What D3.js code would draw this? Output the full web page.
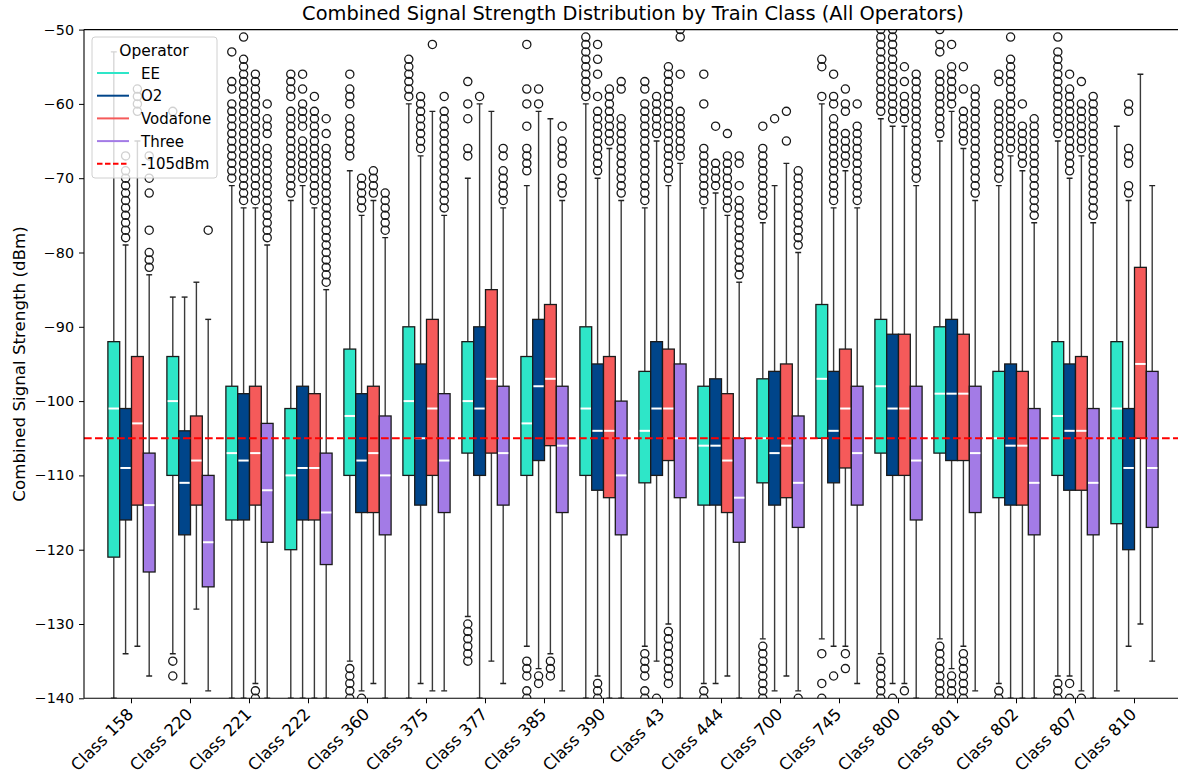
<!DOCTYPE html>
<html lang="en">
<head>
<meta charset="UTF-8">
<title>Combined Signal Strength Distribution by Train Class</title>
<script src="https://d3js.org/d3.v7.min.js"></script>
<style>
  body { margin: 0; background: #fff; overflow: hidden; }
  svg { font-family: "DejaVu Sans", sans-serif; }
</style>
</head>
<body>
<script>
// Train classes along the x axis
const classes = ["Class 158", "Class 220", "Class 221", "Class 222", "Class 360", "Class 375",
  "Class 377", "Class 385", "Class 390", "Class 43", "Class 444", "Class 700", "Class 745",
  "Class 800", "Class 801", "Class 802", "Class 807", "Class 810"];
const operators = ["EE", "O2", "Vodafone", "Three"];
const colors = ["#2ee6c8", "#00458a", "#f55a5a", "#a37be6"];
const yTicks = [-140, -130, -120, -110, -100, -90, -80, -70, -60, -50];
const threshold = -105;

// [lower whisker, q1, median, q3, upper whisker] for each class
const eeStats = [
  [-140, -121, -101, -92, -53], [-134, -110, -100, -94, -86], [-140, -116, -107, -98, -71],
  [-140, -120, -110, -101, -73], [-135, -110, -102, -93, -69], [-140, -110, -100, -90, -60],
  [-129, -107, -100, -92, -70], [-133, -110, -103, -94, -71], [-140, -110, -101, -90, -60],
  [-133, -111, -104, -96, -74], [-138, -114, -106, -98, -74], [-132, -111, -105, -97, -76],
  [-132, -105, -97, -87, -60], [-134, -107, -98, -89, -62], [-132, -107, -99, -90, -65],
  [-138, -113, -105, -96, -71], [-137, -110, -102, -92, -65], [-139, -116.5, -101, -92, -63]];
const o2Stats = [
  [-134, -116, -109, -101, -79], [-138, -118, -111, -104, -86], [-140, -116, -108, -99, -74],
  [-140, -116, -109, -98, -71], [-139, -115, -108, -99, -75], [-138, -114, -105, -95, -67],
  [-140, -110, -101, -90, -60], [-136, -108, -98, -89, -61], [-137, -112, -104, -95, -70],
  [-135, -110, -101, -92, -65], [-138, -114, -106, -97, -72], [-139, -114, -107, -96, -71],
  [-133, -111, -104, -96, -74], [-138, -110, -101, -91, -63], [-136, -108, -99, -89, -61],
  [-140, -114, -106, -95, -67], [-137, -112, -104, -95, -70], [-133, -120, -109, -101, -73]];
const vodafoneStats = [
  [-133, -114, -103, -94, -65], [-128, -114, -108, -102, -84], [-138, -114, -107, -98, -74],
  [-140, -116, -109, -99, -74], [-138, -115, -107, -98, -73], [-139, -110, -101, -89, -61],
  [-135, -107, -97, -85, -61], [-134, -106, -97, -87, -62], [-140, -113, -104, -94, -66],
  [-130, -108, -101, -93, -71], [-137, -115, -108, -99, -75], [-137, -113, -106, -95, -68],
  [-133, -109, -101, -93, -69], [-138, -110, -101, -91, -63], [-133, -108, -99, -91, -66],
  [-140, -114, -106, -96, -69], [-139, -112, -104, -94, -67], [-130, -105, -95, -82, -56]];
const threeStats = [
  [-137, -123, -114, -107, -83], [-139, -125, -119, -110, -89], [-140, -119, -112, -103, -79],
  [-140, -122, -115, -107, -85], [-140, -118, -110, -102, -78], [-139, -115, -108, -99, -75],
  [-138, -114, -107, -98, -74], [-139, -115, -106, -98, -73], [-140, -118, -110, -100, -73],
  [-140, -113, -105, -95, -68], [-140, -119, -113, -105, -84], [-139, -117, -111, -102, -80],
  [-138, -114, -107, -98, -74], [-140, -116, -108, -98, -71], [-139, -115, -107, -98, -73],
  [-140, -118, -111, -101, -76], [-140, -118, -111, -101, -76], [-135, -117, -109, -96, -71]];

// outlier points for each class
const eeOutliers = [
  [],
  [-61, -135, -137],
  [-53, -57, -58, -60, -61, -62, -63, -64, -65, -66, -67, -68, -69, -70],
  [-56, -57, -58, -59, -61, -62, -63, -64, -65, -66, -67, -68, -69, -70, -71, -72],
  [-56, -58, -59, -60, -62, -63, -64, -65, -66, -67, -136, -137, -138, -139, -140],
  [-54, -55, -56, -57, -58, -59],
  [-57, -60, -62, -66, -67, -130, -131, -132, -133, -134, -135],
  [-52, -58, -60, -63, -66, -67, -68, -69, -135, -136, -137, -139, -140],
  [-51, -52, -53, -54, -55, -56, -57, -58, -59],
  [-57, -58, -60, -61, -62, -63, -64, -65, -66, -67, -68, -69, -70, -71, -72, -73, -134, -135, -136, -137, -139, -140],
  [-56, -60, -66, -67, -68, -69, -70, -71, -72, -73, -139, -140],
  [-63, -66, -67, -68, -69, -70, -71, -72, -73, -74, -75, -133, -134, -135, -136, -137, -138, -139, -140],
  [-54, -55, -59, -134, -138, -140],
  [-50, -51, -52, -53, -54, -55, -56, -57, -58, -59, -60, -61, -135, -136, -137, -138, -139, -140],
  [-50, -52, -53, -56, -57, -58, -59, -60, -61, -62, -63, -64, -133, -134, -135, -136, -137, -138, -139, -140],
  [-56, -57, -60, -61, -62, -63, -64, -65, -66, -67, -68, -69, -70, -139, -140],
  [-51, -53, -54, -55, -56, -57, -58, -59, -60, -61, -62, -63, -64, -138, -139, -140],
  []];
const o2Outliers = [
  [-67, -69, -70, -71, -72, -73, -74, -75, -76, -77, -78],
  [],
  [-51, -54, -55, -56, -57, -58, -59, -60, -61, -62, -63, -64, -65, -66, -67, -68, -69, -70, -71, -72, -73],
  [-56, -58, -60, -61, -62, -63, -65, -66, -67, -68, -69, -70],
  [-70, -71, -72, -73, -74, -140],
  [-59, -60, -61, -62, -63, -64, -65, -66],
  [-59],
  [-58, -60, -137, -138],
  [-52, -54, -56, -59, -61, -62, -63, -64, -65, -66, -67, -68, -69, -138, -139, -140],
  [-59, -60, -61, -62, -63, -64, -140],
  [-63, -68, -69, -70, -71],
  [-62],
  [-56, -59, -60, -62, -63, -64, -65, -66, -67, -68, -69, -70, -71, -72, -73, -137],
  [-50, -51, -52, -53, -54, -55, -56, -57, -58, -59, -60, -61, -62, -140],
  [-52, -55, -56, -57, -58, -59, -60, -137, -138, -139, -140],
  [-51, -54, -55, -56, -57, -58, -59, -60, -61, -62, -63, -64, -65, -66],
  [-56, -58, -59, -60, -61, -62, -63, -64, -65, -66, -67, -68, -69, -138, -140],
  [-60, -61, -66, -67, -68, -71, -72]];
const vodafoneOutliers = [
  [-58, -59, -60, -61],
  [],
  [-56, -57, -58, -59, -60, -61, -62, -63, -64, -65, -66, -67, -68, -69, -70, -71, -72, -73, -139, -140],
  [-59, -61, -62, -63, -64, -65, -66, -67, -68, -69, -70, -71, -72, -73],
  [-69, -70, -71, -72],
  [-52],
  [],
  [-135, -136, -137],
  [-58, -59, -60, -61, -62, -63, -64, -65],
  [-55, -56, -57, -58, -59, -60, -61, -62, -63, -64, -65, -66, -67, -68, -69, -70, -131, -132, -133, -134, -135, -136, -137, -138],
  [-64, -67, -68, -69, -70, -71, -72, -73, -74],
  [-61, -65],
  [-58, -60, -61, -64, -65, -66, -67, -68, -134, -136],
  [-55, -57, -59, -60, -61, -62, -139],
  [-55, -58, -61, -62, -63, -64, -65, -134, -135, -136, -137, -138, -139, -140],
  [-60, -63, -64, -65, -66, -67, -68],
  [-57, -60, -61, -62, -63, -64, -65, -66, -140],
  []];
const threeOutliers = [
  [-67, -70, -72, -77, -80, -81, -82],
  [-77],
  [-60, -62, -63, -64, -66, -67, -68, -69, -70, -71, -72, -73, -74, -75, -76, -77, -78],
  [-62, -64, -66, -67, -68, -69, -70, -71, -72, -73, -74, -75, -76, -77, -78, -79, -80, -81, -82, -83, -84],
  [-72, -73, -74, -75, -76, -77],
  [-59, -61, -62, -63, -64, -65, -66, -67, -68, -69, -70, -71, -72, -73, -74],
  [-66, -67, -69, -70, -71, -72, -73],
  [-63, -65, -66, -67, -68, -70, -71, -72],
  [-57, -58, -62, -63, -64, -65, -66, -67, -68, -69, -70, -71, -72],
  [-50, -51, -56, -61, -62, -63, -64, -65, -66, -67],
  [-67, -68, -71, -73, -74, -75, -76, -77, -78, -79, -80, -81, -82, -83],
  [-69, -70, -71, -72, -73, -74, -75, -76, -77, -78, -79, -140],
  [-60, -63, -64, -65, -66, -67, -68, -69, -70, -71, -72, -73],
  [-56, -57, -58, -59, -60, -61, -62, -63, -64, -65, -66, -67, -68, -69, -70],
  [-58, -59, -60, -61, -62, -63, -64, -65, -66, -67, -68, -69, -70, -71, -72],
  [-62, -63, -64, -65, -66, -67, -68, -69, -70, -71, -72, -73, -74, -75],
  [-59, -60, -61, -62, -63, -64, -65, -66, -67, -68, -69, -70, -71, -72, -73, -74, -75],
  []];

const allStats = [eeStats, o2Stats, vodafoneStats, threeStats];
const allOutliers = [eeOutliers, o2Outliers, vodafoneOutliers, threeOutliers];

const width = 1178, height = 776;
const plot = { left: 84, right: 1182, top: 29.6, bottom: 698.3 };

const svg = d3.select("body").append("svg").attr("width", width).attr("height", height);

// Scales
const x = d3.scaleBand().domain(classes).range([plot.left, plot.right])
  .paddingInner(0).paddingOuter(0.305);
const xOp = d3.scaleBand().domain(operators).range([0, x.bandwidth() * 0.8]);
const y = d3.scaleLinear().domain([-140, -50]).range([plot.bottom, plot.top]);
const color = d3.scaleOrdinal().domain(operators).range(colors);

svg.append("clipPath").attr("id", "clip").append("rect")
  .attr("x", plot.left).attr("y", plot.top)
  .attr("width", plot.right - plot.left).attr("height", plot.bottom - plot.top);

// Flatten into one record per box
const boxes = [];
operators.forEach((op, i) => {
  classes.forEach((cls, j) => {
    const s = allStats[i][j];
    boxes.push({ cls, op, lo: s[0], q1: s[1], med: s[2], q3: s[3], hi: s[4], out: allOutliers[i][j] });
  });
});

const g = svg.append("g").attr("clip-path", "url(#clip)");
const boxW = xOp.bandwidth();
const capW = boxW / 2;

const box = g.selectAll(".box").data(boxes).join("g")
  .attr("class", "box")
  .attr("transform", d => `translate(${x(d.cls) + x.bandwidth() * 0.1 + xOp(d.op) + boxW / 2},0)`);

// whiskers
box.append("line").attr("x1", 0).attr("x2", 0)
  .attr("y1", d => y(d.hi)).attr("y2", d => y(d.q3))
  .attr("stroke", "#3a3a3a").attr("stroke-width", 1.4);
box.append("line").attr("x1", 0).attr("x2", 0)
  .attr("y1", d => y(d.q1)).attr("y2", d => y(d.lo))
  .attr("stroke", "#3a3a3a").attr("stroke-width", 1.4);
// caps
box.append("line").attr("x1", -capW / 2).attr("x2", capW / 2)
  .attr("y1", d => y(d.hi)).attr("y2", d => y(d.hi))
  .attr("stroke", "#222").attr("stroke-width", 1.4);
box.append("line").attr("x1", -capW / 2).attr("x2", capW / 2)
  .attr("y1", d => y(d.lo)).attr("y2", d => y(d.lo))
  .attr("stroke", "#222").attr("stroke-width", 1.4);
// box body
box.append("rect")
  .attr("x", -boxW / 2).attr("width", boxW)
  .attr("y", d => y(d.q3)).attr("height", d => y(d.q1) - y(d.q3))
  .attr("fill", d => color(d.op)).attr("stroke", "#1a1a1a").attr("stroke-width", 1.3);
// median
box.append("line").attr("x1", -boxW / 2 + 0.7).attr("x2", boxW / 2 - 0.7)
  .attr("y1", d => y(d.med)).attr("y2", d => y(d.med))
  .attr("stroke", "#fff").attr("stroke-width", 2);
// outliers
box.selectAll("circle").data(d => d.out).join("circle")
  .attr("cx", 0).attr("cy", v => y(v)).attr("r", 4.1)
  .attr("fill", "none").attr("stroke", "#1a1a1a").attr("stroke-width", 1.3);

// threshold line
svg.append("line")
  .attr("x1", plot.left).attr("x2", plot.right)
  .attr("y1", y(threshold)).attr("y2", y(threshold))
  .attr("stroke", "red").attr("stroke-width", 2.1).attr("stroke-dasharray", "7.7,3.3");

// Axes
const yAxis = svg.append("g").attr("transform", `translate(${plot.left},0)`)
  .call(d3.axisLeft(y).tickValues(yTicks).tickSize(5).tickPadding(5).tickFormat(d3.format("d")));
yAxis.select(".domain").remove();
yAxis.selectAll("text").attr("font-size", 14.3).attr("fill", "#000").attr("font-family", "DejaVu Sans")
  .text(d => "\u2212" + Math.abs(d));
yAxis.selectAll("line").attr("stroke", "#000").attr("stroke-width", 1);

const xAxis = svg.append("g").attr("transform", `translate(0,${plot.bottom})`)
  .call(d3.axisBottom(x).tickSize(5).tickSizeOuter(0));
xAxis.select(".domain").remove();
xAxis.selectAll("line").attr("stroke", "#000").attr("stroke-width", 1);
xAxis.selectAll("text")
  .attr("font-size", 16.5).attr("fill", "#000").attr("font-family", "DejaVu Sans")
  .attr("text-anchor", "end").attr("dy", 0).attr("y", 0)
  .attr("transform", "translate(3,17) rotate(-45)");

// frame
const frame = svg.append("g").attr("stroke", "#000").attr("stroke-width", 1.1);
frame.append("line").attr("x1", plot.left).attr("x2", plot.right).attr("y1", plot.top).attr("y2", plot.top);
frame.append("line").attr("x1", plot.left).attr("x2", plot.right).attr("y1", plot.bottom).attr("y2", plot.bottom);
frame.append("line").attr("x1", plot.left).attr("x2", plot.left).attr("y1", plot.top).attr("y2", plot.bottom);

// Title and y label
svg.append("text").attr("x", (plot.left + plot.right) / 2).attr("y", 20)
  .attr("text-anchor", "middle").attr("font-size", 19.4).text("Combined Signal Strength Distribution by Train Class (All Operators)");
svg.append("text").attr("transform", `translate(25,${(plot.top + plot.bottom) / 2}) rotate(-90)`)
  .attr("text-anchor", "middle").attr("font-size", 16.7).text("Combined Signal Strength (dBm)");

// Legend
const legend = svg.append("g").attr("transform", "translate(92,37)");
legend.append("rect").attr("width", 125).attr("height", 141).attr("rx", 3)
  .attr("fill", "#fff").attr("fill-opacity", 0.8).attr("stroke", "#d0d0d0").attr("stroke-width", 1);
legend.append("text").attr("x", 62).attr("y", 19).attr("text-anchor", "middle").attr("font-size", 15.5).text("Operator");
const items = operators.map(op => ({ label: op, color: color(op), dash: null }))
  .concat([{ label: "-105dBm", color: "red", dash: "5.5,2.5" }]);
const item = legend.selectAll(".item").data(items).join("g")
  .attr("transform", (d, i) => `translate(0,${36 + i * 22.7})`);
item.append("line").attr("x1", 5).attr("x2", 37).attr("y1", 0).attr("y2", 0)
  .attr("stroke", d => d.color).attr("stroke-width", 2).attr("stroke-dasharray", d => d.dash);
item.append("text").attr("x", 49).attr("y", 5.5).attr("font-size", 15).text(d => d.label);
</script>
</body>
</html>
